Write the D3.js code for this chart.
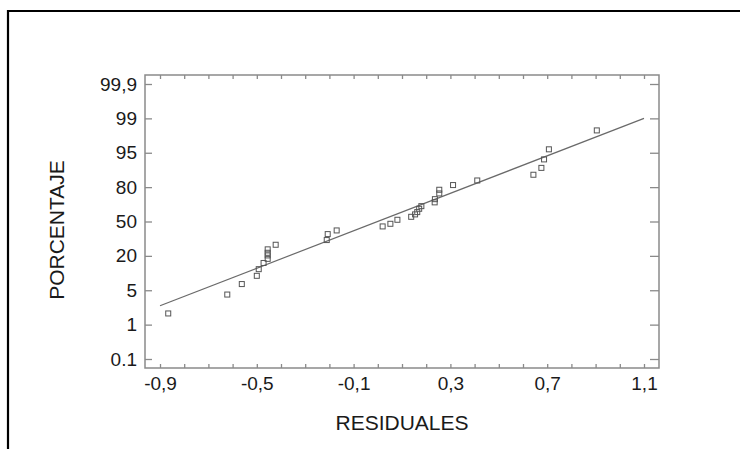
<!DOCTYPE html>
<meta charset="utf-8">
<script src="https://d3js.org/d3.v7.min.js"></script>
<style>
	body { margin: 0; background: #fff; }
	text { font-family: "Liberation Sans", Arial, sans-serif; }
</style>
<div id="chart"></div>
<script>
	// Probability axis labels (evenly spaced on the plot)
	var pctTicks = [0.1, 1, 5, 20, 50, 80, 95, 99, 99.9];
	var pctLabels = ["0.1", "1", "5", "20", "50", "80", "95", "99", "99,9"];

	// Residual axis ticks and labels
	var xTicks = d3.range(-9, 12).map(d => d / 10);
	var xLabelVals = [-0.9, -0.5, -0.1, 0.3, 0.7, 1.1];
	var xLabels = ["-0,9", "-0,5", "-0,1", "0,3", "0,7", "1,1"];

	// Residuals and their cumulative percentage
	var residuals = [-0.866, -0.622, -0.562, -0.500, -0.492, -0.472, -0.455, -0.455, -0.455, -0.455, -0.422,
		-0.211, -0.207, -0.170, 0.020, 0.052, 0.081, 0.138, 0.154, 0.163, 0.171, 0.180,
		0.235, 0.236, 0.254, 0.254, 0.311, 0.411, 0.643, 0.676, 0.687, 0.707, 0.905];
	var percents = [2.3, 4.5, 7.7, 11.3, 14.2, 16.9, 18.7, 20.4, 22.7, 25.7, 29.7,
		33.8, 39.0, 42.2, 45.7, 48.0, 51.5, 54.1, 56.2, 58.2, 61.1, 63.4,
		66.7, 69.5, 74.5, 77.7, 80.9, 82.9, 85.4, 88.4, 92.1, 95.4, 97.6];

	// Fitted line end points
	var lineX = [-0.9, 1.1];
	var lineP = [3.2, 99];

	function draw() {
		var width = 740, height = 449;
		var mLeft = 145, mRight = 659, mTop = 75, mBottom = 368;

		var svg = d3.select("#chart").append("svg")
			.attr("width", width)
			.attr("height", height);

		// outer frame (top and left edges only)
		svg.append("path")
			.attr("d", "M8,449V11H740")
			.attr("fill", "none")
			.attr("stroke", "#000")
			.attr("stroke-width", 2.2);

		var x = d3.scaleLinear()
			.domain([-0.962, 1.162])
			.range([mLeft, mRight]);

		// evenly spaced probability ticks -> piecewise linear scale
		var yIdx = d3.scaleLinear().domain([0, pctTicks.length - 1]).range([359, 84]);
		var y = d3.scaleLinear()
			.domain(pctTicks)
			.range(pctTicks.map((d, i) => yIdx(i)));

		var axisColor = "#8a8a8a";

		// axes
		var gLeft = svg.append("g")
			.attr("transform", "translate(" + mLeft + ",0)")
			.call(d3.axisLeft(y).tickValues(pctTicks).tickSize(-7).tickPadding(8)
				.tickFormat((d, i) => pctLabels[i]));
		var gRight = svg.append("g")
			.attr("transform", "translate(" + mRight + ",0)")
			.call(d3.axisRight(y).tickValues(pctTicks).tickSize(-9).tickFormat(""));
		var gBottom = svg.append("g")
			.attr("transform", "translate(0," + mBottom + ")")
			.call(d3.axisBottom(x).tickValues(xTicks).tickSize(-4).tickPadding(9)
				.tickFormat(d => {
					var k = xLabelVals.findIndex(v => Math.abs(v - d) < 1e-6);
					return k < 0 ? "" : xLabels[k];
				}));
		var gTop = svg.append("g")
			.attr("transform", "translate(0," + mTop + ")")
			.call(d3.axisTop(x).tickValues(xTicks).tickSize(-4).tickFormat(""));

		[gLeft, gRight, gBottom, gTop].forEach(g => {
			g.select(".domain").remove();
			g.selectAll(".tick line").attr("stroke", axisColor).attr("stroke-width", 1.3);
			g.selectAll(".tick text").attr("fill", "#1a1a1a").style("font-size", "19px");
		});

		// plot frame
		svg.append("rect")
			.attr("x", mLeft)
			.attr("y", mTop)
			.attr("width", mRight - mLeft)
			.attr("height", mBottom - mTop)
			.attr("fill", "none")
			.attr("stroke", axisColor)
			.attr("stroke-width", 1.5);

		// fitted line
		svg.append("path")
			.datum(lineX.map((v, i) => ({x: v, p: lineP[i]})))
			.attr("fill", "none")
			.attr("stroke", "#6a6a6a")
			.attr("stroke-width", 1.2)
			.attr("d", d3.line().x(d => x(d.x)).y(d => y(d.p)));

		// points
		svg.append("g").selectAll("rect")
			.data(residuals.map((v, i) => ({x: v, p: percents[i]})))
			.enter().append("rect")
			.attr("x", d => x(d.x) - 2.5)
			.attr("y", d => y(d.p) - 2.5)
			.attr("width", 5)
			.attr("height", 5)
			.attr("fill", "none")
			.attr("stroke", "#555")
			.attr("stroke-width", 1);

		// axis titles
		svg.append("text")
			.attr("x", (mLeft + mRight) / 2)
			.attr("y", 430)
			.attr("text-anchor", "middle")
			.attr("fill", "#1a1a1a")
			.style("font-size", "21px")
			.text("RESIDUALES");
		svg.append("text")
			.attr("transform", "translate(64,230) rotate(-90)")
			.attr("text-anchor", "middle")
			.attr("fill", "#1a1a1a")
			.style("font-size", "21px")
			.text("PORCENTAJE");
	}

	draw();
</script>
